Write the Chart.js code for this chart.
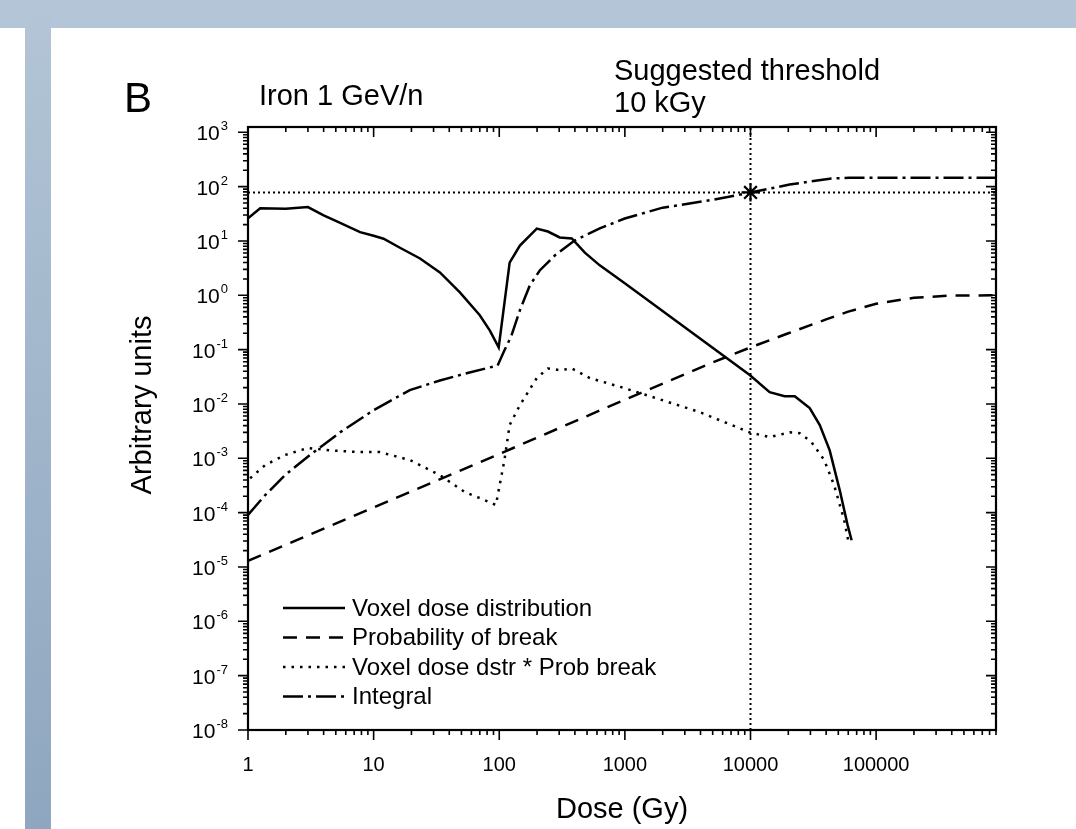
<!DOCTYPE html>
<html><head><meta charset="utf-8">
<script src="https://cdn.jsdelivr.net/npm/chart.js@4.4.1/dist/chart.umd.min.js"></script>
<style>
html,body{margin:0;padding:0;background:#fff;overflow:hidden;}
#wrap{position:relative;width:1076px;height:829px;background:#fff;}
#topband{position:absolute;left:0;top:0;width:1076px;height:28px;background:#b3c5d6;}
#leftstrip{position:absolute;left:25px;top:0;width:26px;height:829px;background:linear-gradient(#b3c5d6,#8ea6bf);}
#c{position:absolute;left:0;top:0;}
</style></head>
<body>
<div id="wrap"><div id="topband"></div><div id="leftstrip"></div><canvas id="c" width="1076" height="829"></canvas></div>
<script>
// ---- data ----
const seriesNames = ['Voxel dose distribution','Probability of break','Voxel dose dstr * Prob break','Integral'];

const voxelDose   = [1, 1.25, 2, 3, 4, 5.1, 7.8, 10, 12, 16.2, 23.4, 33.7, 48.6, 70, 84, 99, 121, 146, 199, 244, 303, 378, 480, 631, 998, 9860, 14200, 18700, 22500, 29600, 35600, 42700, 51300, 59300, 63800];
const voxelVal    = [26, 40, 39, 42, 29.5, 23, 14.5, 12.5, 11.0, 7.5, 4.75, 2.63, 1.13, 0.43, 0.226, 0.11, 4.0, 8.2, 16.9, 14.9, 11.6, 11.1, 6.1, 3.55, 1.66, 0.034, 0.0165, 0.0139, 0.0139, 0.0084, 0.0041, 0.0014, 0.00026, 0.000059, 0.000031];

const probDose    = [1, 10, 100, 1000, 5000, 10000, 20000, 40000, 60000, 100000, 200000, 400000, 900000];
const probVal     = [1.3e-5, 1.25e-4, 1.2e-3, 0.012, 0.058, 0.11, 0.2, 0.36, 0.5, 0.7, 0.9, 0.99, 1.0];

const prodDose    = [1.04, 1.37, 1.97, 3.0, 4.5, 7.8, 11.2, 19.4, 33.7, 53, 76.7, 94, 110, 121, 146, 199, 244, 303, 378, 526, 998, 3930, 9860, 14200, 20500, 24600, 30500, 38600, 46300, 55600, 60800];
const prodVal     = [4.3e-4, 7.5e-4, 1.15e-3, 1.55e-3, 1.4e-3, 1.3e-3, 1.3e-3, 9.3e-4, 4.9e-4, 2.4e-4, 1.7e-4, 1.38e-4, 9.3e-4, 4.1e-3, 9.5e-3, 0.03, 0.045, 0.042, 0.045, 0.03, 0.0195, 7.1e-3, 3.0e-3, 2.45e-3, 3.0e-3, 2.9e-3, 2.0e-3, 9.3e-4, 3.2e-4, 7.4e-5, 2.6e-5];

const integDose   = [1, 1.37, 1.97, 3.11, 5.4, 10, 19.4, 33.7, 58, 97, 110, 125, 146, 175, 210, 277, 398, 631, 998, 2000, 5000, 10000, 20500, 29600, 42700, 61000, 900000];
const integVal    = [9.1e-5, 2.1e-4, 4.9e-4, 1.15e-3, 3.0e-3, 7.7e-3, 0.018, 0.027, 0.038, 0.051, 0.097, 0.18, 0.53, 1.52, 2.86, 5.4, 10.2, 17, 25.9, 41, 57, 77.6, 109, 124, 140, 146, 146];

const thresholdDose = 10000;
const thresholdVal  = 78;

const xTickValues = [1, 10, 100, 1000, 10000, 100000];
const xTickLabels = ['1', '10', '100', '1000', '10000', '100000'];
const yTickExps   = [3, 2, 1, 0, -1, -2, -3, -4, -5, -6, -7, -8];

const X_MIN = 1, X_MAX = 900000, Y_MIN = 1e-8, Y_MAX = 1250;

const pts = (xs, ys) => xs.map((v, i) => ({x: v, y: ys[i]}));
const FONT = "'Liberation Sans', Arial, sans-serif";

const lineDs = (label, xs, ys, dash, w) => ({
  label, data: pts(xs, ys), borderColor: '#000', backgroundColor: '#000',
  borderWidth: w, borderDash: dash, pointRadius: 0, tension: 0, fill: false,
  borderCapStyle: 'butt', legendShow: true
});

const datasets = [
  {label: 'hline', data: [{x: X_MIN, y: thresholdVal}, {x: X_MAX, y: thresholdVal}], borderColor: '#000', borderWidth: 2, borderDash: [2, 3], pointRadius: 0, legendShow: false},
  {label: 'vline', data: [{x: thresholdDose, y: Y_MIN}, {x: thresholdDose, y: Y_MAX}], borderColor: '#000', borderWidth: 2, borderDash: [2, 3], pointRadius: 0, legendShow: false},
  lineDs(seriesNames[0], voxelDose, voxelVal, [], 2.5),
  lineDs(seriesNames[1], probDose, probVal, [14, 9], 2.5),
  lineDs(seriesNames[2], prodDose, prodVal, [2.5, 6], 2.5),
  lineDs(seriesNames[3], integDose, integVal, [20, 5, 3, 5], 2.5),
  {label: 'star', data: [{x: thresholdDose, y: thresholdVal}], showLine: false, pointStyle: 'star', pointRadius: 9, borderColor: '#000', borderWidth: 2.2, legendShow: false}
];

const axesPlugin = {
  id: 'axesPlugin',
  afterDraw(chart) {
    const {ctx, chartArea: a, scales: {x, y}} = chart;
    ctx.save();
    ctx.strokeStyle = '#000';
    ctx.fillStyle = '#000';
    const MAJ = 10, MIN = 5;
    ctx.lineWidth = 1.6;
    ctx.beginPath();
    for (let d = 0; d <= 6; d++) for (let m = 1; m <= 9; m++) {
      const v = m * Math.pow(10, d);
      if (v < X_MIN || v > X_MAX * 1.0001) continue;
      const px = x.getPixelForValue(v);
      const len = m === 1 ? MAJ : MIN;
      ctx.moveTo(px, a.bottom); ctx.lineTo(px, a.bottom + len);
      ctx.moveTo(px, a.top); ctx.lineTo(px, a.top + len);
    }
    for (let d = -8; d <= 3; d++) for (let m = 1; m <= 9; m++) {
      const v = m * Math.pow(10, d);
      if (v < Y_MIN * 0.9999 || v > Y_MAX) continue;
      const py = y.getPixelForValue(v);
      const len = m === 1 ? MAJ : MIN;
      ctx.moveTo(a.left, py); ctx.lineTo(a.left - len, py);
      ctx.moveTo(a.right, py); ctx.lineTo(a.right - len, py);
    }
    ctx.stroke();
    ctx.lineWidth = 2.2;
    ctx.strokeRect(a.left, a.top, a.right - a.left, a.bottom - a.top);

    ctx.font = '20px ' + FONT;
    ctx.textAlign = 'center';
    ctx.textBaseline = 'alphabetic';
    xTickValues.forEach((v, i) => ctx.fillText(xTickLabels[i], x.getPixelForValue(v), a.bottom + 41));

    yTickExps.forEach(e => {
      const py = y.getPixelForValue(Math.pow(10, e));
      const sup = String(e);
      ctx.font = '13px ' + FONT;
      const sw = ctx.measureText(sup).width;
      ctx.textAlign = 'right';
      ctx.fillText(sup, a.left - 20, py - 2);
      ctx.font = '21px ' + FONT;
      ctx.fillText('10', a.left - 21 - sw, py + 8);
    });

    ctx.font = '29px ' + FONT;
    ctx.textAlign = 'center';
    ctx.fillText('Dose (Gy)', (a.left + a.right) / 2, a.bottom + 88);
    ctx.save();
    ctx.translate(151, 405);
    ctx.rotate(-Math.PI / 2);
    ctx.fillText('Arbitrary units', 0, 0);
    ctx.restore();

    ctx.textAlign = 'left';
    ctx.font = '42px ' + FONT;
    ctx.fillText('B', 124, 112);
    ctx.font = '29px ' + FONT;
    ctx.fillText('Iron 1 GeV/n', 259, 105);
    ctx.fillText('Suggested threshold', 614, 80);
    ctx.fillText('10 kGy', 614, 112);

    const lx0 = a.left + 35, lx1 = a.left + 97, tx = a.left + 104;
    let ly = a.bottom - 122;
    chart.data.datasets.filter(d => d.legendShow).forEach(d => {
      ctx.lineWidth = d.borderWidth;
      ctx.setLineDash(d.borderDash || []);
      ctx.lineCap = 'butt';
      ctx.beginPath(); ctx.moveTo(lx0, ly); ctx.lineTo(lx1, ly); ctx.stroke();
      ctx.setLineDash([]);
      ctx.font = '24px ' + FONT;
      ctx.textBaseline = 'middle';
      ctx.fillText(d.label, tx, ly + 1);
      ctx.textBaseline = 'alphabetic';
      ly += 29.5;
    });
    ctx.restore();
  }
};

new Chart(document.getElementById('c'), {
  type: 'line',
  data: {datasets},
  options: {
    responsive: false,
    animation: false,
    devicePixelRatio: 1,
    layout: {padding: {left: 248, right: 80, top: 127, bottom: 99}},
    plugins: {legend: {display: false}, tooltip: {enabled: false}},
    scales: {
      x: {type: 'logarithmic', min: X_MIN, max: X_MAX, display: false},
      y: {type: 'logarithmic', min: Y_MIN, max: Y_MAX, display: false}
    }
  },
  plugins: [axesPlugin]
});
</script>
</body></html>
